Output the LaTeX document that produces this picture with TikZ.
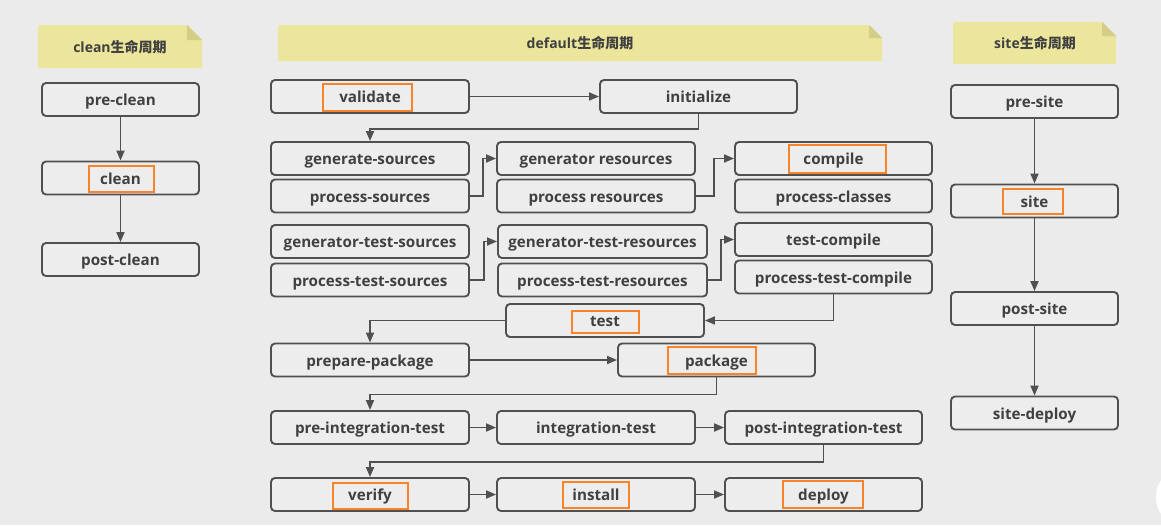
\documentclass[tikz,border=0pt]{standalone}
\usepackage{fontspec}
\setmainfont{Open Sans}
\newfontfamily\cjk{Noto Sans CJK SC}
\usetikzlibrary{arrows.meta}
\definecolor{bg}{HTML}{EBEBEB}
\definecolor{boxfill}{HTML}{EDEDED}
\definecolor{bord}{HTML}{505050}
\definecolor{txt}{HTML}{404040}
\definecolor{hl}{HTML}{F7832A}
\definecolor{note}{HTML}{EBE69C}
\definecolor{notefold}{HTML}{D3CE86}
\tikzset{
  box/.style={draw=bord, line width=1.9pt, rounded corners=4pt, fill=boxfill,
    minimum height=33pt, inner sep=0pt, text=txt, text height=12.6pt, text depth=0pt,
    font=\bfseries\fontsize{15.2}{18}\selectfont},
  lw/.style={box, minimum width=198pt},
  cw/.style={box, minimum width=157pt},
  sw/.style={box, minimum width=167pt},
  arr/.style={draw=bord, line width=1.8pt, -{Triangle[length=10pt,width=8pt]}},
  hlbox/.style={draw=hl, line width=2pt},
  notetext/.style={text=txt, font=\bfseries\fontsize{14}{16}\selectfont, inner sep=0pt},
}
\newcommand{\notebox}[5]{% x1 y1 x2 y2 fold
  \fill[note] (#1,#2) -- ({#3-#5},#2) -- (#3,{#2+#5}) -- (#3,#4) -- (#1,#4) -- cycle;
  \fill[notefold] ({#3-#5},#2) -- ({#3-#5},{#2+#5}) -- (#3,{#2+#5}) -- cycle;
}
\begin{document}
\begin{tikzpicture}[x=1pt,y=-1pt]
\fill[bg] (0,0) rectangle (1161,525);
\useasboundingbox (0,0) rectangle (1161,525);
\begin{scope}
\clip (0,0) rectangle (1161,525);
\fill[white] (1187,497) circle (31);
\end{scope}

% headers
\notebox{38}{25}{202}{68}{15}
\node[notetext] (hclean) at (120,47) {clean{\cjk 生命周期}};
\notebox{278}{25}{882}{61}{13}
\node[notetext] (hdefault) at (580,43) {default{\cjk 生命周期}};
\notebox{953}{22}{1116}{64}{14}
\node[notetext] (hsite) at (1035,43) {site{\cjk 生命周期}};

% clean lifecycle
\node[cw] (preclean) at (120.5,99.5) {pre-clean};
\node[cw] (clean) at (120.5,178) {clean};
\node[cw] (postclean) at (120.5,259.5) {post-clean};
\draw[arr] (preclean) -- (clean);
\draw[arr] (clean) -- (postclean);

% site lifecycle
\node[sw] (presite) at (1034.5,101.5) {pre-site};
\node[sw] (site) at (1034.5,201) {site};
\node[sw] (postsite) at (1034.5,308.5) {post-site};
\node[sw] (sitedeploy) at (1034.5,413) {site-deploy};
\draw[arr] (presite) -- (site);
\draw[arr] (site) -- (postsite);
\draw[arr] (postsite) -- (sitedeploy);

% default lifecycle
\node[lw] (validate) at (370,96.5) {validate};
\node[lw, minimum width=197pt] (initialize) at (698.5,96.5) {initialize};
\node[lw] (gensrc) at (370,158.5) {generate-sources};
\node[lw] (procsrc) at (370,196) {process-sources};
\node[lw] (genres) at (596,158.5) {generator resources};
\node[lw] (procres) at (596,196) {process resources};
\node[lw, minimum width=197pt] (compile) at (833.5,158.5) {compile};
\node[lw, minimum width=197pt] (procclass) at (833.5,196) {process-classes};
\node[lw] (gtsrc) at (370,241.5) {generator-test-sources};
\node[lw] (ptsrc) at (370,280) {process-test-sources};
\node[lw, minimum width=209pt] (gtres) at (602.5,241.5) {generator-test-resources};
\node[lw, minimum width=209pt] (ptres) at (602.5,280) {process-test-resources};
\node[lw, minimum width=197pt] (tcomp) at (833.5,239.5) {test-compile};
\node[lw, minimum width=197pt] (ptcomp) at (833.5,277) {process-test-compile};
\node[lw] (test) at (605,320.5) {test};
\node[lw] (prepkg) at (370,360) {prepare-package};
\node[lw, minimum width=197pt] (package) at (716.5,360) {package};
\node[lw] (preit) at (370,427.5) {pre-integration-test};
\node[lw] (it) at (596,427.5) {integration-test};
\node[lw, minimum width=197pt] (postit) at (823.5,427.5) {post-integration-test};
\node[lw] (verify) at (370,494.5) {verify};
\node[lw] (install) at (596,494.5) {install};
\node[lw, minimum width=197pt] (deploy) at (823.5,494.5) {deploy};

\draw[arr] (validate) -- (initialize);
\draw[arr] (initialize.south) -- ++(0,15) -| (gensrc.north);
\draw[arr] (procsrc.east) -- ++(13,0) |- (genres.west);
\draw[arr] (procres.east) -- ++(18,0) |- (compile.west);
\draw[arr] (ptsrc.east) -- ++(14,0) |- (gtres.west);
\draw[arr] (ptres.east) -- ++(13,0) |- (tcomp.west);
\draw[arr] (ptcomp.south) |- (test.east);
\draw[arr] (test.west) -| (prepkg.north);
\draw[arr] (prepkg) -- (package);
\draw[arr] (package.south) -- ++(0,17) -| (preit.north);
\draw[arr] (preit) -- (it);
\draw[arr] (it) -- (postit);
\draw[arr] (postit.south) -- ++(0,17) -| (verify.north);
\draw[arr] (verify) -- (install);
\draw[arr] (install) -- (deploy);

% highlights
\draw[hlbox] (89,166) rectangle (154,192);
\draw[hlbox] (1003,189) rectangle (1063,214);
\draw[hlbox] (323,84) rectangle (412,111);
\draw[hlbox] (789,145) rectangle (886,173);
\draw[hlbox] (572,311) rectangle (639,333);
\draw[hlbox] (668,347) rectangle (756,374);
\draw[hlbox] (333,483) rectangle (408,509);
\draw[hlbox] (563,482) rectangle (629,508);
\draw[hlbox] (783,481) rectangle (863,508);
\end{tikzpicture}
\end{document}
